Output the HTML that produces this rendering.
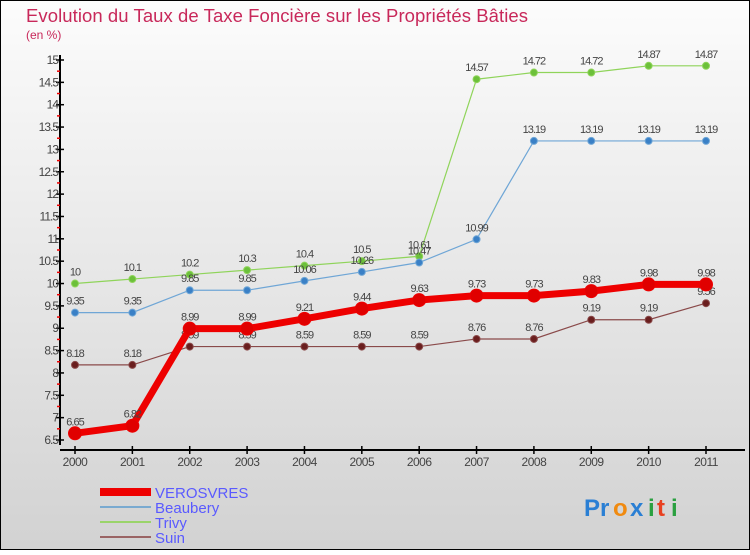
<!DOCTYPE html>
<html><head><meta charset="utf-8"><style>
body{margin:0}
#c{width:750px;height:550px;position:relative;font-family:"Liberation Sans",sans-serif}
</style></head><body>
<div id="c">
<svg id="s" width="750" height="550" xmlns="http://www.w3.org/2000/svg">
<defs><linearGradient id="bg" x1="0" y1="0" x2="0" y2="1"><stop offset="0" stop-color="#fcfcfc"/><stop offset="1" stop-color="#d2d2d2"/></linearGradient></defs>
<rect x="0.5" y="0.5" width="749" height="549" fill="url(#bg)" stroke="#000"/>
<text x="26" y="22" font-size="18.5" fill="#c8285a" textLength="502">Evolution du Taux de Taxe Foncière sur les Propriétés Bâties</text>
<text x="26" y="39" font-size="12" fill="#c8285a">(en %)</text>
<g id="axes"></g><g id="series"></g><g id="legend"></g>
<g font-size="24" font-weight="bold">
<text x="584" y="516" fill="#2a7fd4">Pr</text><text x="613" y="516" fill="#f08a10">o</text><text x="630" y="516" fill="#2a7fd4">x</text><text x="648" y="516" fill="#2aa040">i</text><text x="657" y="516" fill="#e84020">t</text><text x="671" y="516" fill="#2aa040">i</text>
</g>
</svg></div>
<script>
const years=["2000","2001","2002","2003","2004","2005","2006","2007","2008","2009","2010","2011"];
const verosvres=[6.65,6.82,8.99,8.99,9.21,9.44,9.63,9.73,9.73,9.83,9.98,9.98];
const beaubery=[9.35,9.35,9.85,9.85,10.06,10.26,10.47,10.99,13.19,13.19,13.19,13.19];
const trivy=[10,10.1,10.2,10.3,10.4,10.5,10.61,14.57,14.72,14.72,14.87,14.87];
const suin=[8.18,8.18,8.59,8.59,8.59,8.59,8.59,8.76,8.76,9.19,9.19,9.56];
const yTicks=[6.5,7,7.5,8,8.5,9,9.5,10,10.5,11,11.5,12,12.5,13,13.5,14,14.5,15];
const NS="http://www.w3.org/2000/svg";
const X=i=>75+i*(706-75)/11;
const Y=v=>440-(v-6.5)*(380/8.5);
function mk(t,a,p){const e=document.createElementNS(NS,t);for(const k in a)e.setAttribute(k,a[k]);p.appendChild(e);return e;}
const ax=document.getElementById('axes');
const ya=mk('line',{x1:60,y1:55,x2:60,y2:445,stroke:'#000','stroke-width':2},ax);


const xa=mk('line',{x1:60,y1:450,x2:745,y2:450,stroke:'#000','stroke-width':2},ax);


yTicks.forEach(v=>{
 mk('line',{x1:56,y1:Y(v),x2:64,y2:Y(v),stroke:'#000','stroke-width':1.5},ax);
 if(v<15) mk('line',{x1:57,y1:Y(v+0.25),x2:60,y2:Y(v+0.25),stroke:'#e00','stroke-width':1.5},ax);
 const t=mk('text',{x:58,y:Y(v)+4,'font-size':12,fill:'#444','text-anchor':'end','letter-spacing':'-1'},ax);
 t.textContent=String(v);
 
 
});
years.forEach((y,i)=>{
 mk('line',{x1:X(i),y1:446,x2:X(i),y2:454,stroke:'#000','stroke-width':1.5},ax);
 const t=mk('text',{x:X(i),y:466,'font-size':12,fill:'#444','text-anchor':'middle','letter-spacing':'-0.5'},ax);
 t.textContent=y;
 
 
});
const sg=document.getElementById('series');
function series(name,data,col,w,r,dot){
 const g=mk('g',{},sg);
 
 
 const l=mk('polyline',{points:data.map((v,i)=>X(i)+','+Y(v)).join(' '),fill:'none',stroke:col,'stroke-width':w},g);
 
 
 data.forEach((v,i)=>{
  const c=mk('circle',{cx:X(i),cy:Y(v),r:r,fill:dot,stroke:col,'stroke-width':1},g);
  
  
  const t=mk('text',{x:X(i),y:Y(v)-8,'font-size':11,fill:'#444','text-anchor':'middle','letter-spacing':'-1'},g);
  t.textContent=String(v);
  
  
 });
}
series('trivy',trivy,'#8fd45a',1.2,3.5,'#6cc03a');
series('beaubery',beaubery,'#6fa6d6',1.2,3.5,'#3a80c6');
series('suin',suin,'#8a4a4a',1.2,3.5,'#6a1e1e');
series('verosvres',verosvres,'#ee0000',7,6.5,'#e00000');
const lg=document.getElementById('legend');
[['VEROSVRES','#ee0000',8],['Beaubery','#7aaad0',2],['Trivy','#9ad46a',2],['Suin','#9a6464',2]].forEach((d,i)=>{
 const y=492+i*15;
 const g=mk('g',{},lg);
 
 
 mk('line',{x1:100,y1:y,x2:151,y2:y,stroke:d[1],'stroke-width':d[2]},g);
 const t=mk('text',{x:155,y:y+6,'font-size':15,fill:'#5a5aff'},g);
 t.textContent=d[0];
});
</script>
</body></html>
